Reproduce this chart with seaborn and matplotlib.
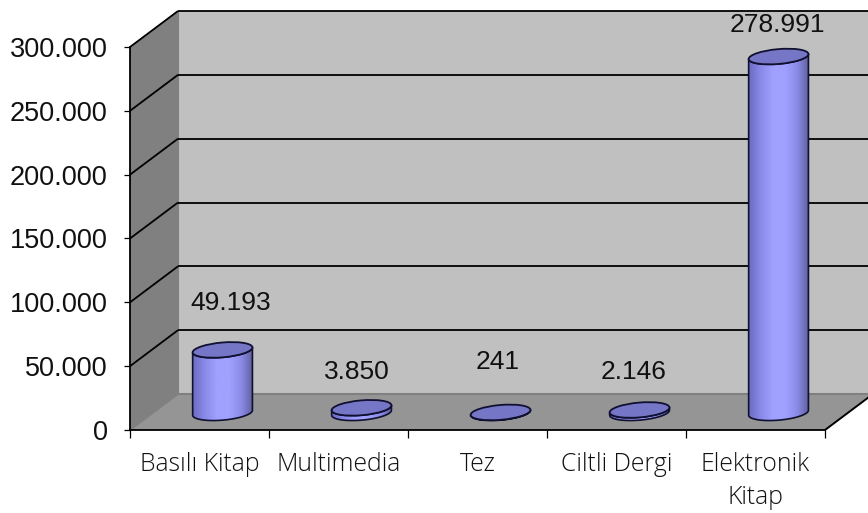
import numpy as np
import matplotlib
matplotlib.use("Agg")
import matplotlib.pyplot as plt
from matplotlib.colors import LinearSegmentedColormap
from matplotlib.patches import Ellipse, PathPatch, Polygon
from matplotlib.path import Path
from matplotlib.ticker import FuncFormatter
from matplotlib.transforms import IdentityTransform
import seaborn as sns

categories = ["Basılı Kitap", "Multimedia", "Tez", "Ciltli Dergi", "Elektronik\nKitap"]
values = [49193, 3850, 241, 2146, 278991]
y_ticks = [0, 50000, 100000, 150000, 200000, 250000, 300000]

# hand placed data labels in the original, offset from the top of each cylinder (px)
label_dx = [8, -5, -3, -6, -1]
label_dy = [47, 36, 50, 38, 32]

W, H = 868, 513
DEPTH_X, DEPTH_Y = 48, 36
ROUND_A, ROUND_B, TILT = 30, 7.4, 5

sns.set_theme(style="white")
plt.rcParams["font.family"] = ["Liberation Sans", "DejaVu Sans"]

fig = plt.figure(figsize=(W / 100, H / 100), dpi=100, facecolor="white")
ax = fig.add_axes([130 / W, (H - 430) / H, 695 / W, 383 / H])
ax.patch.set_visible(False)

sns.barplot(x=list(range(5)), y=values, width=0.4245, color="#9999ff", ax=ax, zorder=1)
ax.set_xlim(-0.5, 4.5)
ax.set_ylim(0, 300000)


def to_px(x, y, depth=0.0):
    px, py = ax.transData.transform((x, y))
    return px + DEPTH_X * depth, py + DEPTH_Y * depth


def poly(points, color, z):
    ax.add_patch(Polygon(points, closed=True, facecolor=color, edgecolor="none",
                         transform=IdentityTransform(), clip_on=False, zorder=z))


def seg(p0, p1, color="black", lw=1.3, z=0.7):
    ax.plot([p0[0], p1[0]], [p0[1], p1[1]], color=color, lw=lw, transform=IdentityTransform(),
            clip_on=False, zorder=z, solid_capstyle="butt")


# walls and floor
top = y_ticks[-1]
poly([to_px(-0.5, 0), to_px(-0.5, top), to_px(-0.5, top, 1), to_px(-0.5, 0, 1)], "#808080", 0.2)
poly([to_px(-0.5, 0, 1), to_px(-0.5, top, 1), to_px(4.5, top, 1), to_px(4.5, 0, 1)], "#c0c0c0", 0.2)
poly([to_px(-0.5, 0), to_px(-0.5, 0, 1), to_px(4.5, 0, 1), to_px(4.5, 0)], "#959595", 0.3)
seg(to_px(-0.5, 0), to_px(-0.5, 0, 1), "#808080")
seg(to_px(-0.5, 0, 1), to_px(4.5, 0, 1), "#808080", 1.5)
seg(to_px(4.5, 0), to_px(4.5, 0, 1), "black", 1.4)
seg(to_px(-0.5, 0, 1), to_px(-0.5, top, 1), "#808080", 0.8)
for v in y_ticks[1:]:
    seg(to_px(-0.5, v), to_px(-0.5, v, 1))
    seg(to_px(-0.5, v, 1), to_px(4.5, v, 1))

# cylinders, sized from the bars seaborn laid out
cmap = LinearSegmentedColormap.from_list("cyl", ["#6c6cc4", "#8a8ae8", "#a0a0ff", "#a0a0ff",
                                                 "#8c8ce8", "#60609f"])
shade = np.linspace(0, 1, 256).reshape(1, -1)
t = np.radians(TILT)
arc = np.linspace(np.pi, 2 * np.pi, 50)
arc_x = ROUND_A * np.cos(arc) * np.cos(t) - ROUND_B * np.sin(arc) * np.sin(t)
arc_y = ROUND_A * np.cos(arc) * np.sin(t) + ROUND_B * np.sin(arc) * np.cos(t)

tops = []
for bar in ax.patches:
    if not isinstance(bar, matplotlib.patches.Rectangle):
        continue
    if bar.get_width() > 1:
        continue
    bar.set_visible(False)
    cx = bar.get_x() + bar.get_width() / 2
    x0, y0 = to_px(cx, 0, 0.48)
    x1, y1 = to_px(cx, bar.get_height(), 0.48)
    verts = np.r_[np.c_[x0 + arc_x, y0 + arc_y], np.c_[x1 + arc_x, y1 + arc_y][::-1], [[x0 + arc_x[0], y0 + arc_y[0]]]]
    outline = PathPatch(Path(verts, closed=False), facecolor="none", edgecolor="#101030", lw=1.2,
                        transform=IdentityTransform(), clip_on=False, zorder=3.1)
    ax.add_patch(outline)
    im = ax.imshow(shade, cmap=cmap, aspect="auto", interpolation="bilinear",
                   extent=(x0 - ROUND_A, x0 + ROUND_A, y0 - 12, y1 + 12),
                   transform=IdentityTransform(), zorder=3, clip_on=True)
    im.set_clip_path(PathPatch(Path(verts), transform=IdentityTransform()))
    ax.add_patch(Ellipse((x1, y1), 2 * ROUND_A, 2 * ROUND_B, angle=TILT, facecolor="#7676c6",
                         edgecolor="#101030", lw=1.3, transform=IdentityTransform(),
                         clip_on=False, zorder=3.2))
    tops.append((x1, y1))

ax.set_xlim(-0.5, 4.5)
ax.set_ylim(0, 300000)

# data labels
for (x1, y1), v, dx, dy in zip(tops, values, label_dx, label_dy):
    ax.text(x1 + dx, y1 + dy, f"{v:,}".replace(",", "."), transform=IdentityTransform(),
            ha="center", va="center", fontsize=19, color="#111111", zorder=4, clip_on=False)

# axes furniture
sns.despine(ax=ax, top=True, right=True)
for side in ("left", "bottom"):
    ax.spines[side].set_color("black")
    ax.spines[side].set_linewidth(1.3)
    ax.spines[side].set_zorder(2)

ax.set_yticks(y_ticks)
ax.yaxis.set_major_formatter(FuncFormatter(lambda v, _: f"{int(v):,}".replace(",", ".")))
ax.tick_params(axis="y", left=True, length=4, width=0.9, color="black", labelsize=19.5,
               labelcolor="#111111", pad=12)
ax.set_xticks(np.arange(-0.5, 5, 1))
ax.set_xticklabels([])
ax.set_xticks(range(5), labels=categories, minor=True)
ax.tick_params(axis="x", which="major", bottom=True, length=5.5, width=0.9, color="black")
ax.tick_params(axis="x", which="minor", bottom=False, length=0, labelsize=17.8, pad=16, labelcolor="#111111")
for lab in ax.get_xticklabels(minor=True):
    lab.set_fontfamily(["Open Sans", "DejaVu Sans"])
    lab.set_fontweight("light")
    lab.set_linespacing(1.4)
ax.set_xlabel("")
ax.set_ylabel("")

fig.savefig("out.png", dpi=100)
